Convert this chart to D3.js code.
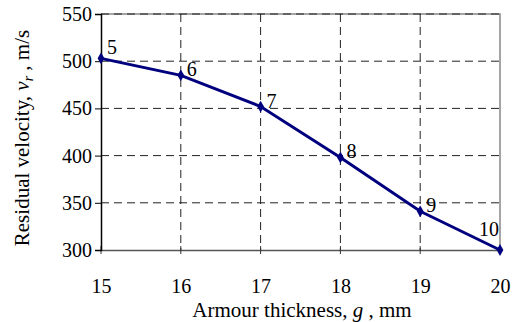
<!DOCTYPE html>
<html>
<head>
<meta charset="utf-8">
<script src="https://cdn.jsdelivr.net/npm/d3@7"></script>
<style>
  html, body { margin: 0; padding: 0; background: #fff; }
  svg { display: block; }
  svg text { font-family: "Liberation Serif", "DejaVu Serif", serif !important; fill: #000; }
</style>
</head>
<body>
<svg id="chart" width="512" height="322"></svg>
<script>
const thickness = [15, 16, 17, 18, 19, 20];
const velocity = [503, 485, 452, 398, 341, 300];
const pointLabels = ["5", "6", "7", "8", "9", "10"];
const xTicks = [15, 16, 17, 18, 19, 20];
const yTicks = [300, 350, 400, 450, 500, 550];

const svg = d3.select("#chart");
const pLeft = 101, pRight = 500, pTop = 14, pBottom = 250;

const x = d3.scaleLinear().domain([15, 20]).range([pLeft, pRight]);
const y = d3.scaleLinear().domain([300, 550]).range([pBottom, pTop]);

// plot border (top & right, gray)
svg.append("path")
  .attr("d", `M${pLeft},${pTop}H${pRight}V${pBottom}`)
  .attr("fill", "none").attr("stroke", "#888").attr("stroke-width", 1.5);

// horizontal gridlines
svg.append("g").selectAll("line")
  .data(yTicks.filter(v => v > 300))
  .join("line")
  .attr("x1", pLeft).attr("x2", pRight)
  .attr("y1", d => y(d)).attr("y2", d => y(d))
  .attr("stroke", "#222").attr("stroke-width", 1)
  .attr("stroke-dasharray", "8,5");

// vertical gridlines
svg.append("g").selectAll("line")
  .data(xTicks.filter(v => v > 15 && v < 20))
  .join("line")
  .attr("x1", d => x(d)).attr("x2", d => x(d))
  .attr("y1", pTop).attr("y2", pBottom)
  .attr("stroke", "#222").attr("stroke-width", 1)
  .attr("stroke-dasharray", "8,5");

// x axis
const xAxis = d3.axisBottom(x).tickValues(xTicks).tickFormat(d3.format("d"))
  .tickSize(0).tickPadding(29);
const gx = svg.append("g").attr("transform", `translate(0,${pBottom})`).call(xAxis);
gx.attr("font-family", null);
gx.select(".domain").attr("stroke", "#555").attr("stroke-width", 1.5);
gx.selectAll("text").style("font-size", "20px");
// crossing tick marks
svg.append("g").selectAll("line").data(xTicks).join("line")
  .attr("x1", d => x(d)).attr("x2", d => x(d))
  .attr("y1", pBottom - 4).attr("y2", pBottom + 4)
  .attr("stroke", "#333").attr("stroke-width", 1);

// y axis
const yAxis = d3.axisLeft(y).tickValues(yTicks).tickFormat(d3.format("d"))
  .tickSize(6).tickPadding(3);
const gy = svg.append("g").attr("transform", `translate(${pLeft},0)`).call(yAxis);
gy.attr("font-family", null);
gy.select(".domain").attr("stroke", "#000").attr("stroke-width", 1.5);
gy.selectAll(".tick line").attr("stroke", "#000");
gy.selectAll("text").style("font-size", "20px");

// line
const pts = thickness.map((t, i) => [t, velocity[i]]);
svg.append("path")
  .datum(pts)
  .attr("fill", "none")
  .attr("stroke", "#00007f")
  .attr("stroke-width", 3)
  .attr("d", d3.line().x(d => x(d[0])).y(d => y(d[1])));

// markers
svg.append("g").selectAll("path").data(pts).join("path")
  .attr("transform", d => `translate(${x(d[0])},${y(d[1])})`)
  .attr("d", d3.symbol().type(d3.symbolDiamond).size(40))
  .attr("fill", "#00007f");

// point labels
svg.append("g").selectAll("text").data(pts).join("text")
  .attr("x", (d, i) => x(d[0]) + (i === 5 ? -1 : 6))
  .attr("y", (d, i) => y(d[1]) + (i === 5 ? -14 : (i === 0 ? -4 : 1)))
  .attr("text-anchor", (d, i) => i === 5 ? "end" : "start")
  .style("font-size", "20px")
  .text((d, i) => pointLabels[i]);

// x title
const xt = svg.append("text")
  .attr("x", 302).attr("y", 317)
  .attr("text-anchor", "middle")
  .style("font-size", "21px");
xt.append("tspan").text("Armour thickness, ");
xt.append("tspan").style("font-style", "italic").text("g");
xt.append("tspan").text(" , mm");

// y title
const yt = svg.append("text")
  .attr("transform", "translate(29,138) rotate(-90)")
  .attr("text-anchor", "middle")
  .style("font-size", "21px");
yt.append("tspan").text("Residual velocity,  ");
yt.append("tspan").style("font-style", "italic").text("v");
yt.append("tspan").style("font-style", "italic").style("font-size", "14px").attr("dy", 4).text("r");
yt.append("tspan").attr("dy", -4).text(" , m/s");
</script>
</body>
</html>
